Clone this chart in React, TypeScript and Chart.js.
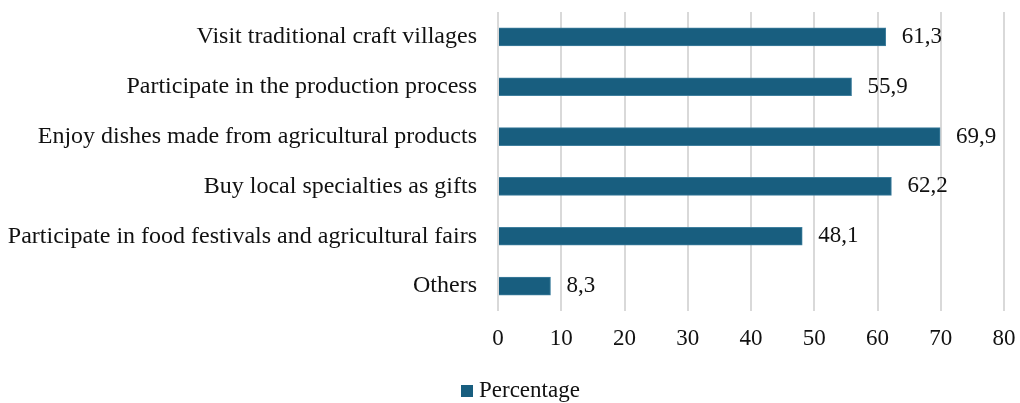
import React, { useEffect, useRef } from "react";
import { Chart, registerables } from "chart.js";

Chart.register(...registerables);

const categories = [
  "Visit traditional craft villages",
  "Participate in the production process",
  "Enjoy dishes made from agricultural products",
  "Buy local specialties as gifts",
  "Participate in food festivals and agricultural fairs",
  "Others",
];
const values = [61.3, 55.9, 69.9, 62.2, 48.1, 8.3];
const seriesName = "Percentage";
const xTicks = [0, 10, 20, 30, 40, 50, 60, 70, 80];

const BAR = "#185e7f";
const FONT = "'Liberation Serif', 'Times New Roman', serif";
const FS = 23;

export default function App() {
  const ref = useRef<HTMLCanvasElement | null>(null);
  useEffect(() => {
    if (!ref.current) return;
    const labelPlugin = {
      id: "valLabels",
      afterDatasetsDraw(chart: any) {
        const ctx = chart.ctx;
        const meta = chart.getDatasetMeta(0);
        ctx.save();
        ctx.font = `${FS}px ${FONT}`;
        ctx.fillStyle = "#111";
        ctx.textBaseline = "middle";
        ctx.textAlign = "left";
        meta.data.forEach((el: any, i: number) => {
          const v = chart.data.datasets[0].data[i] as number;
          ctx.fillText(v.toFixed(1).replace(".", ","), el.x + 16, el.y);
        });
        // legend
        const y = 391;
        const sx = 461;
        ctx.fillStyle = BAR;
        ctx.fillRect(sx, y - 6, 12, 12);
        ctx.fillStyle = "#111";
        ctx.fillText(chart.data.datasets[0].label, sx + 18, y);
        ctx.restore();
      },
    };
    const chart = new Chart(ref.current, {
      type: "bar",
      data: {
        labels: categories,
        datasets: [
          {
            label: seriesName,
            data: values,
            backgroundColor: BAR,
            borderColor: "#3f7f9e",
            borderWidth: 1,
            barThickness: 18,
          },
        ],
      },
      plugins: [labelPlugin],
      options: {
        indexAxis: "y",
        animation: false,
        responsive: false,
        maintainAspectRatio: false,
        layout: { padding: { top: 12, right: 16, bottom: 0, left: 0 } },
        plugins: {
          legend: { display: false },
          tooltip: { enabled: false },
        },
        scales: {
          x: {
            min: 0,
            max: 80,
            afterBuildTicks(scale: any) {
              scale.ticks = xTicks.map((v) => ({ value: v }));
            },
            afterFit(scale: any) {
              scale.height = 92;
              scale.paddingLeft = 0;
              scale.paddingRight = 0;
            },
            grid: { color: "#d9d9d9", lineWidth: 2, drawTicks: false },
            border: { display: false },
            ticks: {
              color: "#111",
              padding: 14,
              font: { family: FONT, size: FS },
              maxRotation: 0,
            },
          },
          y: {
            afterFit(scale: any) {
              scale.width = 498;
              scale.paddingTop = 0;
              scale.paddingBottom = 0;
            },
            grid: { display: false, drawTicks: false },
            border: { display: false },
            ticks: {
              color: "#111",
              padding: 21,
              font: { family: FONT, size: 24 },
            },
          },
        },
      },
    } as any);
    return () => chart.destroy();
  }, []);
  return (
    <div style={{ position: "fixed", left: 0, top: 0, width: 1020, height: 403, background: "#fff" }}>
      <canvas ref={ref} width={1020} height={403} style={{ width: 1020, height: 403 }} />
    </div>
  );
}
